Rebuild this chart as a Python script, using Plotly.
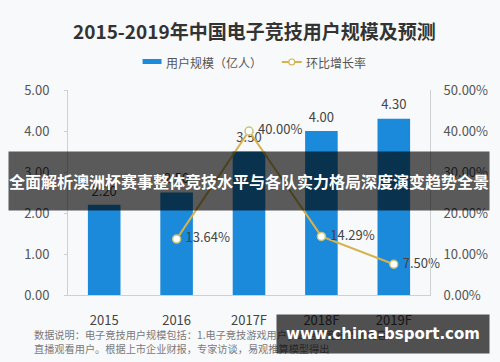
import plotly.graph_objects as go

categories = ["2015", "2016", "2017F", "2018F", "2019F"]
users = [2.20, 2.50, 3.50, 4.00, 4.30]
user_labels = ["2.20", "2.50", "3.50", "4.00", "4.30"]
growth = [None, 0.1364, 0.40, 0.1429, 0.075]
growth_labels = ["", "13.64%", "40.00%", "14.29%", "7.50%"]
left_ticks = [0, 1, 2, 3, 4, 5]
right_ticks = [0, 0.1, 0.2, 0.3, 0.4, 0.5]

title = "2015-2019年中国电子竞技用户规模及预测"
legend_bar = "用户规模（亿人）"
legend_line = "环比增长率"
note1 = "数据说明：电子竞技用户规模包括：1.电子竞技游戏用户；2.电子竞技赛事内容"
note2 = "直播观看用户。根据上市企业财报，专家访谈，易观推算模型得出"
banner = "全面解析澳洲杯赛事整体竞技水平与各队实力格局深度演变趋势全景"
watermark = "www.china-bsport.com"

W, H = 500, 362
L, R, T, B = 68, 68, 90, 67
PW, PH = W - L - R, H - T - B


def px(x):
    return (x - L) / PW


def py(y):
    return (H - B - y) / PH


FONT = "Noto Sans CJK SC"
BLUE = "#1B8ADB"
GOLD = "#D6B24F"

fig = go.Figure()
fig.add_trace(go.Bar(x=categories, y=users, marker=dict(color=BLUE, line=dict(width=0)),
                     showlegend=False, hoverinfo="skip"))
fig.add_trace(go.Scatter(x=categories, y=users, text=user_labels, mode="markers+text",
                         textposition="top center", marker=dict(size=8, opacity=0),
                         textfont=dict(size=13, color="#444444", family=FONT),
                         showlegend=False, hoverinfo="skip", cliponaxis=False))
fig.add_trace(go.Scatter(x=categories, y=growth, text=["\u00a0" + t for t in growth_labels],
                         mode="lines+markers+text",
                         textposition="middle right", yaxis="y2",
                         line=dict(color=GOLD, width=2),
                         marker=dict(size=8, color="white", line=dict(color="#C8C47C", width=1.5)),
                         textfont=dict(size=13, color="#444444", family=FONT),
                         showlegend=False, hoverinfo="skip", cliponaxis=False))

axis_line = "#D0D0D0"
fig.update_layout(
    width=W, height=H,
    margin=dict(l=L, r=R, t=T, b=B),
    paper_bgcolor="#F8F9FB", plot_bgcolor="#F8F9FB",
    bargap=0.55,
    font=dict(family=FONT, color="#555555"),
    xaxis=dict(type="category", showline=True, linecolor=axis_line, showgrid=False,
               ticks="", tickfont=dict(size=13, color="#444444"), ticklabelstandoff=13),
    yaxis=dict(range=[0, 5], tickvals=left_ticks, tickformat=".2f", showline=True,
               linecolor=axis_line, showgrid=False, zeroline=False, ticks="outside",
               ticklen=3, tickcolor=axis_line, tickfont=dict(size=13, color="#555555"),
               ticklabelstandoff=12),
    yaxis2=dict(range=[0, 0.5], tickvals=right_ticks, tickformat=".2%", overlaying="y",
                side="right", showline=True, linecolor=axis_line, showgrid=False,
                zeroline=False, ticks="", tickfont=dict(size=13, color="#555555"),
                ticklabelstandoff=10),
)

shapes = [
    dict(type="rect", xref="paper", yref="paper", x0=px(143), x1=px(162), y0=py(64), y1=py(59),
         fillcolor=BLUE, line=dict(width=0)),
    dict(type="line", xref="paper", yref="paper", x0=px(283), x1=px(303), y0=py(62), y1=py(62),
         line=dict(color=GOLD, width=2)),
    dict(type="circle", xref="paper", yref="paper", x0=px(290), x1=px(296), y0=py(65), y1=py(59),
         fillcolor="white", line=dict(color=GOLD, width=1.2)),
]
fig.update_layout(shapes=shapes)

ann = [
    dict(text="<b>" + title + "</b>", x=px(256), y=py(31), font=dict(size=19, color="#333333")),
    dict(text=legend_bar, x=px(165), y=py(62), xanchor="left", font=dict(size=12, color="#555555")),
    dict(text=legend_line, x=px(305), y=py(62), xanchor="left", font=dict(size=12, color="#555555")),
    dict(text=note1, x=px(32), y=py(334), xanchor="left", font=dict(size=10.2, color="#7a7a7a")),
    dict(text=note2, x=px(32), y=py(348), xanchor="left", font=dict(size=10.2, color="#7a7a7a")),
    dict(text="<b>" + banner + "</b>", x=px(250), y=py(181), width=480, height=58,
         bgcolor="rgba(0,0,0,0.64)", borderpad=0, align="center", valign="middle",
         font=dict(size=16, color="white")),
    dict(text="<b>" + watermark + "</b>", x=px(385), y=py(334), width=212, height=38,
         bgcolor="rgba(0,0,0,0.68)", borderpad=0, align="center", valign="middle",
         font=dict(size=15, color="white", family="DejaVu Sans")),
]
for a in ann:
    a.setdefault("xref", "paper")
    a.setdefault("yref", "paper")
    a.setdefault("xanchor", "center")
    a.setdefault("yanchor", "middle")
    a["showarrow"] = False
    fig.add_annotation(**a)

fig.write_html("out.html", config={"displayModeBar": False},
               post_script="document.body.style.margin='0';document.body.style.overflow='hidden';")
